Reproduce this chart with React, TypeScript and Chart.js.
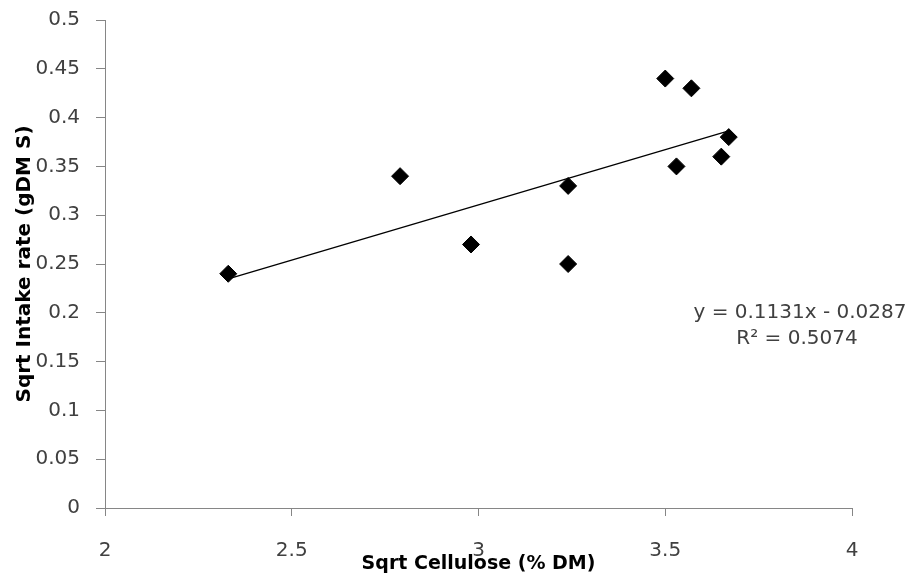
import React, { useEffect, useRef } from "react";
import { Chart, registerables } from "chart.js";

Chart.register(...registerables);

// Data
const celluloseX = [2.33, 2.79, 2.98, 3.24, 3.24, 3.5, 3.53, 3.57, 3.65, 3.67];
const intakeY = [0.24, 0.34, 0.27, 0.33, 0.25, 0.44, 0.35, 0.43, 0.36, 0.38];
const trendX = [2.33, 3.67];
const trendY = [0.2348, 0.3864];
const xTitle = "Sqrt Cellulose (% DM)";
const yTitle = "Sqrt Intake rate (gDM S)";
const equationLines = ["y = 0.1131x - 0.0287", "R\u00B2 = 0.5074"];

const FONT = "'DejaVu Sans', sans-serif";
const TICK_COLOR = "#404040";
const AXIS_COLOR = "#868686";

const fmt = (v: any) => String(Math.round(Number(v) * 1000) / 1000);

export default function App() {
  const ref = useRef<HTMLCanvasElement | null>(null);

  useEffect(() => {
    document.body.style.margin = "0";
    document.body.style.overflow = "hidden";
    const canvas = ref.current;
    if (!canvas) return;

    const equationPlugin = {
      id: "equationText",
      afterDraw(chart: any) {
        const ctx = chart.ctx;
        ctx.save();
        ctx.fillStyle = TICK_COLOR;
        ctx.font = `20px ${FONT}`;
        ctx.textAlign = "center";
        ctx.textBaseline = "middle";
        ctx.fillText(equationLines[0], 800, 313);
        ctx.fillText(equationLines[1], 797, 339);
        ctx.restore();
      },
    };

    const chart = new Chart(canvas, {
      type: "scatter",
      data: {
        datasets: [
          {
            label: "trend",
            type: "line",
            data: trendX.map((x, i) => ({ x, y: trendY[i] })),
            borderColor: "#000000",
            borderWidth: 1.3,
            pointRadius: 0,
            showLine: true,
            fill: false,
          } as any,
          {
            label: "data",
            data: celluloseX.map((x, i) => ({ x, y: intakeY[i] })),
            pointStyle: "rectRot",
            pointRadius: 8.5,
            backgroundColor: "#000000",
            borderColor: "#000000",
            borderWidth: 1,
          },
        ],
      },
      options: {
        animation: false,
        responsive: false,
        maintainAspectRatio: false,
        layout: { padding: { left: 0, right: 61, top: 20, bottom: 0 } },
        plugins: {
          legend: { display: false },
          tooltip: { enabled: false },
        },
        scales: {
          x: {
            type: "linear",
            min: 2,
            max: 4,
            ticks: {
              stepSize: 0.5,
              color: TICK_COLOR,
              font: { family: FONT, size: 20 },
              padding: 23,
              callback: fmt,
            },
            grid: {
              drawOnChartArea: false,
              drawTicks: true,
              tickLength: 8,
              color: AXIS_COLOR,
            },
            border: { color: AXIS_COLOR, width: 1 },
            title: {
              display: true,
              text: xTitle,
              color: "#000000",
              font: { family: FONT, size: 19, weight: "bold", lineHeight: 1 },
              padding: 0,
            },
            afterFit: (s: any) => {
              s.height = 66;
              s.paddingLeft = 0;
              s.paddingRight = 0;
            },
          },
          y: {
            type: "linear",
            min: 0,
            max: 0.5,
            ticks: {
              stepSize: 0.05,
              color: TICK_COLOR,
              font: { family: FONT, size: 20 },
              padding: 16,
              callback: fmt,
            },
            grid: {
              drawOnChartArea: false,
              drawTicks: true,
              tickLength: 9,
              color: AXIS_COLOR,
            },
            border: { color: AXIS_COLOR, width: 1 },
            title: {
              display: true,
              text: yTitle,
              color: "#000000",
              font: { family: FONT, size: 20, weight: "bold", lineHeight: 1 },
              padding: { top: 15, bottom: 0 },
            },
            afterFit: (s: any) => {
              s.width = 105;
              s.paddingTop = 0;
              s.paddingBottom = 0;
            },
          },
        },
      } as any,
      plugins: [equationPlugin],
    });

    return () => chart.destroy();
  }, []);

  return (
    <div style={{ width: 913, height: 574, background: "#ffffff" }}>
      <canvas ref={ref} width={913} height={574} style={{ display: "block" }} />
    </div>
  );
}
